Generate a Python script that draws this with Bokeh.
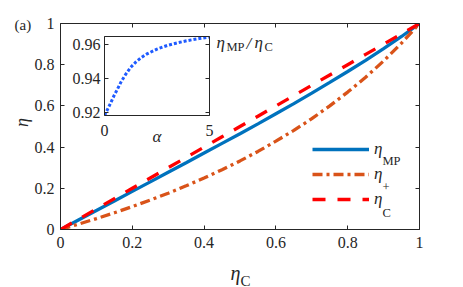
import numpy as np
from bokeh.plotting import figure
from bokeh.models import (Range1d, LinearAxis, FixedTicker, Label, Legend,
                          LegendItem, GridBox, Column, CustomLabelingPolicy)
from bokeh.embed import file_html
from bokeh.resources import INLINE

# ---------------- data ----------------
eta_c = [0.0, 0.05, 0.10, 0.15, 0.20, 0.25, 0.30, 0.35, 0.40, 0.45, 0.50,
         0.55, 0.60, 0.65, 0.70, 0.75, 0.80, 0.85, 0.90, 0.95, 1.0]
eta_mp = [0.0, 0.046, 0.092, 0.138, 0.185, 0.231, 0.278, 0.324, 0.371, 0.418,
          0.465, 0.513, 0.562, 0.611, 0.662, 0.714, 0.767, 0.821, 0.878, 0.937, 1.0]
eta_plus = [0.0, 0.026, 0.053, 0.081, 0.111, 0.143, 0.176, 0.212, 0.250, 0.290,
            0.333, 0.379, 0.429, 0.481, 0.538, 0.600, 0.667, 0.739, 0.818, 0.905, 1.0]
eta_carnot = eta_c

alpha = [0, 0.1, 0.2, 0.3, 0.4, 0.5, 0.6, 0.8, 1.0, 1.25, 1.5, 1.75, 2.0,
         2.5, 3.0, 3.5, 4.0, 4.5, 5.0]
ratio = [0.9185, 0.9210, 0.9235, 0.9260, 0.9288, 0.9313, 0.9336, 0.9385,
         0.9425, 0.9468, 0.9500, 0.9525, 0.9545, 0.9575, 0.9597, 0.9613,
         0.9626, 0.9637, 0.9646]

x_ticks = [0, 0.2, 0.4, 0.6, 0.8, 1]
x_tick_labels = ["0", "0.2", "0.4", "0.6", "0.8", "1"]
y_ticks = [0, 0.2, 0.4, 0.6, 0.8, 1]
y_tick_labels = ["0", "0.2", "0.4", "0.6", "0.8", "1"]
in_x_ticks = [0, 5]
in_x_tick_labels = ["0", "5"]
in_y_ticks = [0.92, 0.94, 0.96]
in_y_tick_labels = ["0.92", "0.94", "0.96"]

FONT = "Liberation Serif"
AX = "#262626"
BLUE = "#0072BD"
ORANGE = "#D95319"
RED = "#FF0000"
DOT = "#1F5BFF"

OFF = 8                      # page margin
W, H = 447, 279
BL, BR, BT, BB = 52, 36, 15, 58
FW, FH = W - BL - BR, H - BT - BB

HIDE = CustomLabelingPolicy(code="""
for (const i of indices) { indices.unset(i) }
return indices
""")


def style_axis(ax, ticks, labels, show_labels=True, size="16px", standoff=6):
    ax.ticker = FixedTicker(ticks=ticks)
    ax.major_label_overrides = {t: l for t, l in zip(ticks, labels)}
    ax.minor_tick_line_color = None
    ax.major_tick_in = 4
    ax.major_tick_out = 0
    ax.axis_line_color = AX
    ax.major_tick_line_color = AX
    ax.major_label_text_font = FONT
    ax.major_label_text_color = AX
    if show_labels:
        ax.major_label_text_font_size = size
        ax.major_label_standoff = standoff
    else:
        ax.major_label_text_font_size = "1px"
        ax.major_label_standoff = 0
        ax.major_label_policy = HIDE


p = figure(width=W, height=H, x_range=Range1d(0, 1), y_range=Range1d(0, 1),
           output_backend="svg", toolbar_location=None,
           min_border_left=BL, min_border_right=BR,
           min_border_top=BT, min_border_bottom=BB)
p.grid.visible = False
p.outline_line_color = None
p.background_fill_color = "white"
p.border_fill_color = "white"

style_axis(p.xaxis[0], x_ticks, x_tick_labels, standoff=7)
style_axis(p.yaxis[0], y_ticks, y_tick_labels, standoff=6)
top_ax = LinearAxis()
right_ax = LinearAxis()
style_axis(top_ax, x_ticks, x_tick_labels, show_labels=False)
style_axis(right_ax, y_ticks, y_tick_labels, show_labels=False)
p.add_layout(top_ax, "above")
p.add_layout(right_ax, "right")

r_mp = p.line(eta_c, eta_mp, line_color=BLUE, line_width=3.3)
r_plus = p.line(eta_c, eta_plus, line_color=ORANGE, line_width=3.3,
                line_dash="10 4 3 4")
r_c = p.line(eta_c, eta_carnot, line_color=RED, line_width=3.3,
             line_dash="13 12")

legend = Legend(items=[LegendItem(label="η", renderers=[r_mp]),
                       LegendItem(label="η", renderers=[r_plus]),
                       LegendItem(label="η", renderers=[r_c])],
                location=(252, 20), orientation="vertical",
                glyph_width=57, glyph_height=20, label_height=20,
                label_standoff=5, spacing=5, padding=0, margin=0,
                border_line_color=None, background_fill_alpha=0,
                label_text_font=FONT, label_text_font_size="17px",
                label_text_font_style="italic", label_text_color=AX)
p.add_layout(legend, "center")

# ---------------- inset ----------------
IBL, IBR, IBT, IBB = 40, 5, 5, 38
IFW, IFH = 105, 79
IW, IH = IBL + IFW + IBR, IBT + IFH + IBB
inset = figure(width=IW, height=IH,
               x_range=Range1d(0, 5), y_range=Range1d(0.9185, 0.9649),
               output_backend="svg", toolbar_location=None,
               min_border_left=IBL, min_border_right=IBR,
               min_border_top=IBT, min_border_bottom=IBB)
inset.grid.visible = False
inset.outline_line_color = None
inset.background_fill_color = "white"
inset.border_fill_alpha = 0
style_axis(inset.xaxis[0], in_x_ticks, in_x_tick_labels, standoff=9)
style_axis(inset.yaxis[0], in_y_ticks, in_y_tick_labels, standoff=4)
it = LinearAxis()
ir = LinearAxis()
style_axis(it, in_x_ticks, in_x_tick_labels, show_labels=False)
style_axis(ir, in_y_ticks, in_y_tick_labels, show_labels=False)
inset.add_layout(it, "above")
inset.add_layout(ir, "right")
inset.line(alpha, ratio, line_color=DOT, line_width=3, line_dash="3 2")
inset_box = Column(children=[inset], margin=(28 - IBT, 0, 0, 96 - IBL))

# ---------------- text overlay (pixel coordinates, y down) ----------------
ann = figure(width=W, height=H, x_range=Range1d(0, W), y_range=Range1d(H, 0),
             output_backend="svg", toolbar_location=None,
             x_axis_location=None, y_axis_location=None,
             min_border=0)
ann.grid.visible = False
ann.outline_line_color = None
ann.background_fill_alpha = 0
ann.border_fill_alpha = 0
ann_box = Column(children=[ann])


def add_text(x, y, text, size, italic=False, align="left",
             baseline="alphabetic", angle=0.0):
    ann.add_layout(Label(x=x - OFF, y=y - OFF, text=text, text_font=FONT,
                         text_font_size=size, text_color=AX,
                         text_font_style="italic" if italic else "normal",
                         text_align=align, text_baseline=baseline, angle=angle))


# legend subscripts
add_text(382, 160, "MP", "12.5px")
add_text(382, 186, "+", "12.5px")
add_text(382, 212, "C", "12.5px")
# inset caption eta_MP / eta_C
add_text(216, 42, "η", "17px", italic=True)
add_text(226, 46, "MP", "12.5px")
add_text(246, 43, "/", "17px", italic=True)
add_text(254, 42, "η", "17px", italic=True)
add_text(264, 46, "C", "12.5px")
# inset x label
add_text(156.5, 136, "α", "17px", italic=True, align="center")
# main axis labels and panel tag
add_text(230, 272, "η", "20px", italic=True)
add_text(240, 280, "C", "15px")
add_text(21, 122, "η", "18px", italic=True, align="center",
         baseline="middle", angle=np.pi / 2)
add_text(14, 24, "(a)", "15px", baseline="middle")

layout = GridBox(children=[(p, 0, 0), (inset_box, 0, 0), (ann_box, 0, 0)])
layout.margin = (OFF, 0, 0, OFF)

open("out.html", "w").write(file_html(layout, INLINE))
